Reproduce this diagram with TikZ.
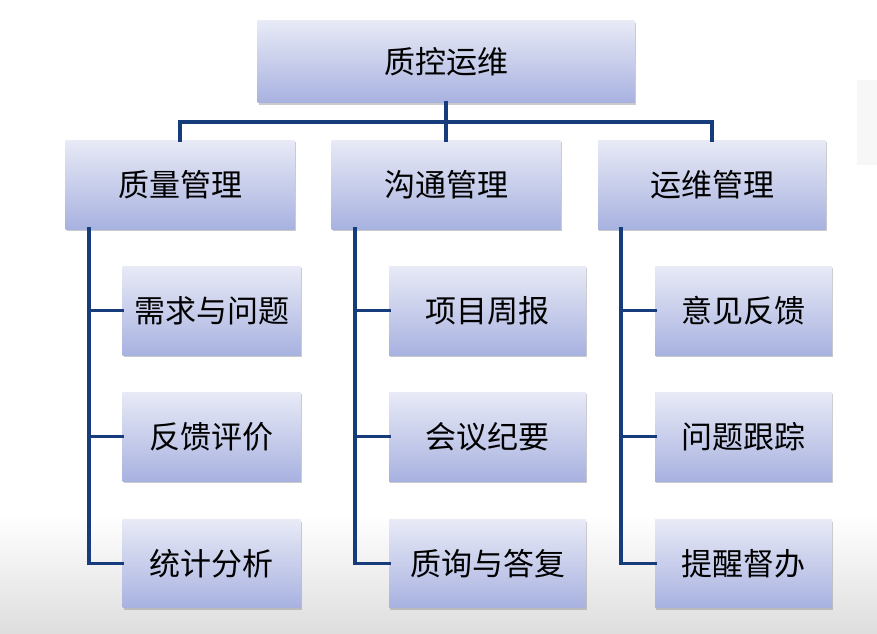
\documentclass[tikz,border=0pt]{standalone}
\usepackage{fontspec}
\newfontfamily\cjk{Noto Sans CJK SC}
\usetikzlibrary{shadows}
\definecolor{boxtop}{HTML}{E8EAF6}
\definecolor{boxbot}{HTML}{A8B2E0}
\definecolor{linecol}{HTML}{163C7C}
\tikzset{
  box/.style={rectangle, inner sep=0pt, top color=boxtop, bottom color=boxbot, draw=none,
    drop shadow={shadow xshift=1.2pt, shadow yshift=-2pt, fill=black!45, opacity=0.45},
    font=\cjk\fontsize{31}{34}\selectfont, text=black},
  conn/.style={draw=linecol, line width=3.6pt, line cap=rect}
}
\begin{document}
\begin{tikzpicture}[x=1pt,y=-1pt]
\useasboundingbox (0,0) rectangle (877,633);
\fill[white] (0,0) rectangle (877,633);
\shade[top color=white, bottom color=black!13] (0,515) rectangle (877,633);
\fill[black!3] (857,80) rectangle (877,165);
% level 1
\node[box, minimum width=377pt, minimum height=82pt] (root) at (446,61.5) {质控运维};
% level 2
\node[box, minimum width=229pt, minimum height=89pt] (q) at (180,184.5) {质量管理};
\node[box, minimum width=229pt, minimum height=89pt] (g) at (446,184.5) {沟通管理};
\node[box, minimum width=228pt, minimum height=89pt] (y) at (712,184.5) {运维管理};
% level 3
\node[box, minimum width=178pt, minimum height=89pt] (q1) at (211.5,310.5) {需求与问题};
\node[box, minimum width=178pt, minimum height=89pt] (q2) at (211.5,436.5) {反馈评价};
\node[box, minimum width=178pt, minimum height=88pt] (q3) at (211.5,563.5) {统计分析};
\node[box, minimum width=197pt, minimum height=89pt] (g1) at (487.5,310.5) {项目周报};
\node[box, minimum width=197pt, minimum height=89pt] (g2) at (487.5,436.5) {会议纪要};
\node[box, minimum width=197pt, minimum height=88pt] (g3) at (487.5,563.5) {质询与答复};
\node[box, minimum width=177pt, minimum height=89pt] (y1) at (743.5,310.5) {意见反馈};
\node[box, minimum width=177pt, minimum height=89pt] (y2) at (743.5,436.5) {问题跟踪};
\node[box, minimum width=177pt, minimum height=88pt] (y3) at (743.5,563.5) {提醒督办};
% connectors
\coordinate (bus) at (446,122);
\draw[conn] (root.south) -- (bus);
\draw[conn] (q.north) |- (bus) -| (y.north);
\draw[conn] (bus) -- (g.north);
\coordinate (qa) at (89,229);
\coordinate (ga) at (355,229);
\coordinate (ya) at (621,229);
\draw[conn] (qa) |- (q3.west);
\draw[conn] (qa |- q1.west) -- (q1.west);
\draw[conn] (qa |- q2.west) -- (q2.west);
\draw[conn] (ga) |- (g3.west);
\draw[conn] (ga |- g1.west) -- (g1.west);
\draw[conn] (ga |- g2.west) -- (g2.west);
\draw[conn] (ya) |- (y3.west);
\draw[conn] (ya |- y1.west) -- (y1.west);
\draw[conn] (ya |- y2.west) -- (y2.west);
\end{tikzpicture}
\end{document}
